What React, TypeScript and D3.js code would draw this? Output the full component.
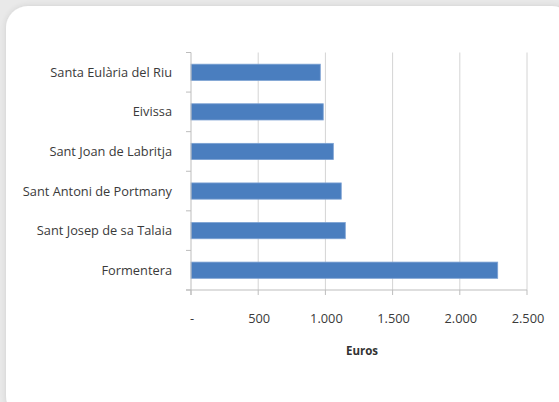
import React from "react";
import * as d3 from "d3";

const categories = [
  "Santa Eulària del Riu",
  "Eivissa",
  "Sant Joan de Labritja",
  "Sant Antoni de Portmany",
  "Sant Josep de sa Talaia",
  "Formentera",
];
const values = [962, 984, 1059, 1118, 1148, 2282];
const xTicks = [0, 500, 1000, 1500, 2000, 2500];
const xTickLabels = ["-", "500", "1.000", "1.500", "2.000", "2.500"];
const xTitle = "Euros";

export default function App() {
  const W = 559, H = 402;
  const left = 191, right = 527, top = 52.5, bottom = 290;
  const x = d3.scaleLinear().domain([0, 2500]).range([left, right]);
  const y = d3.scaleBand<string>().domain(categories).range([top, bottom]).paddingInner(0.59).paddingOuter(0.295);
  const step = (bottom - top) / categories.length;
  const font = "'Open Sans', sans-serif";
  return (
    <svg width={W} height={H} style={{ position: "fixed", left: 0, top: 0 }} fontFamily={font}>
      <defs>
        <filter id="sh" x="-10%" y="-10%" width="120%" height="120%">
          <feGaussianBlur in="SourceAlpha" stdDeviation="3" />
          <feComponentTransfer><feFuncA type="linear" slope="0.12" /></feComponentTransfer>
          <feMerge><feMergeNode /><feMergeNode in="SourceGraphic" /></feMerge>
        </filter>
      </defs>
      <rect x={0} y={0} width={W} height={H} fill="#e9e9e9" />
      <rect x={6} y={6} width={568} height={412} rx={22} fill="#ffffff" filter="url(#sh)" />
      {xTicks.slice(1).map((t) => (
        <line key={t} x1={x(t)} x2={x(t)} y1={top} y2={bottom} stroke="#d4d4d4" strokeWidth={1} />
      ))}
      {categories.map((c, i) => (
        <rect key={c} x={x(0)} y={y(c)!} width={x(values[i]) - x(0)} height={y.bandwidth()} fill="#4a7ebf" stroke="#7ba1d3" strokeWidth={0.8} />
      ))}
      <line x1={left} x2={left} y1={top} y2={bottom + 5} stroke="#bdbdbd" />
      <line x1={left - 5} x2={right} y1={bottom} y2={bottom} stroke="#bdbdbd" />
      {d3.range(categories.length + 1).map((i) => (
        <line key={i} x1={left - 5} x2={left} y1={top + i * step} y2={top + i * step} stroke="#bdbdbd" />
      ))}
      {xTicks.map((t) => (
        <line key={t} x1={x(t)} x2={x(t)} y1={bottom} y2={bottom + 5} stroke="#bdbdbd" />
      ))}
      {categories.map((c) => (
        <text key={c} x={172} y={y(c)! + y.bandwidth() / 2} dy="0.35em" textAnchor="end" fontSize={12.8} fill="#3a3a3a">{c}</text>
      ))}
      {xTicks.map((t, i) => (
        <text key={t} x={x(t) + 1} y={323} textAnchor="middle" fontSize={12.8} fill="#3a3a3a">{xTickLabels[i]}</text>
      ))}
      <text x={362} y={355} textAnchor="middle" fontSize={11.5} fontWeight="bold" fill="#333">{xTitle}</text>
    </svg>
  );
}
